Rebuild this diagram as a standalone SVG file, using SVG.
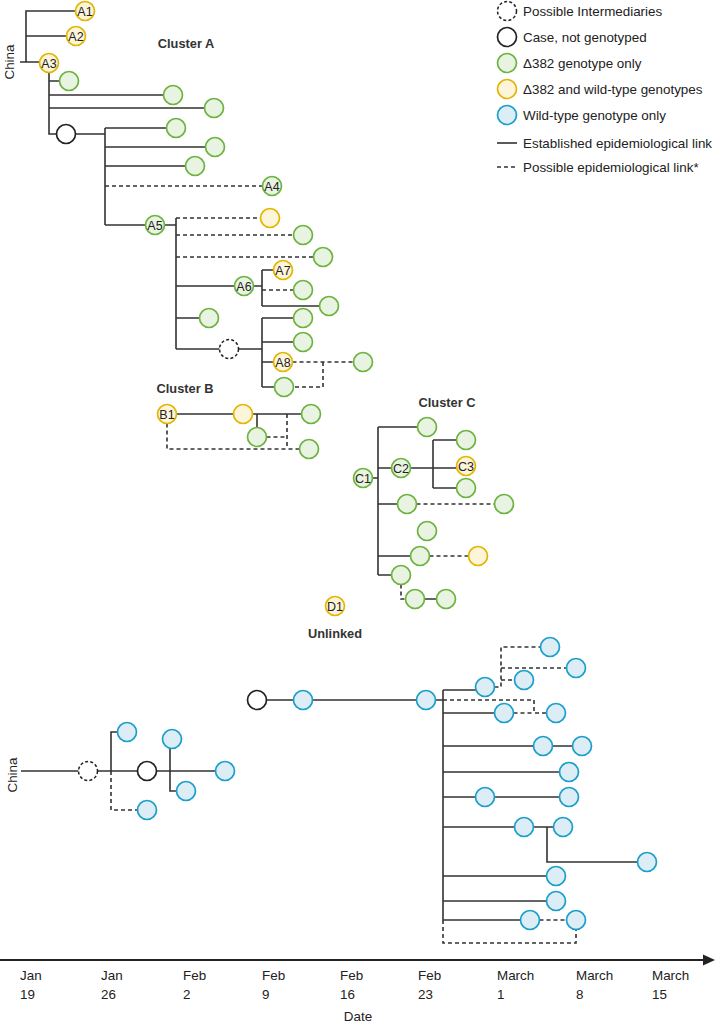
<svg xmlns="http://www.w3.org/2000/svg" width="716" height="1023" viewBox="0 0 716 1023">
<style>
.g{fill:#e9f3e1;stroke:#6cb33f;stroke-width:1.7}
.y{fill:#fdf5da;stroke:#e3b500;stroke-width:1.7}
.b{fill:#dcedf5;stroke:#1a9fca;stroke-width:1.7}
.k{fill:#fff;stroke:#222;stroke-width:1.7}
.i{fill:#fff;stroke:#222;stroke-width:1.5;stroke-dasharray:3 2.2}
.s{fill:none;stroke:#333;stroke-width:1.6}
.d{fill:none;stroke:#333;stroke-width:1.6;stroke-dasharray:4 3}
text{font-family:"Liberation Sans",Arial,sans-serif;fill:#222}
.lb{font-size:12.5px;text-anchor:middle}
.t{font-size:13.4px}
.h{font-size:12.8px;font-weight:bold;fill:#333}
</style>
<g id="connectors">
<path class="s" d="M20,62H40M26,62V11H75.5M26,36H66.5"/>
<path class="s" d="M49,72.5V134H56.5M49,81H59.5M49,95H163.5M49,108H204.5"/>
<path class="s" d="M75.5,134H105M105,128V225M105,128H166.5M105,147H205.5M105,166H185.5M105,225H145.5"/>
<path class="d" d="M105,186H262.5"/>
<path class="s" d="M164.5,225H176M176,218V349M176,286H234.5M253.5,286H262M262,270V306M262,270H273.5M262,306H319.5M176,318H199.5M176,349H219.5M238.5,349H262M262,318V387M262,318H293.5M262,342H293.5M262,362H273.5M262,387H274.5"/>
<path class="d" d="M176,218H260.5M176,235H293.5M176,257H313.5M262,290H293.5M292.5,362H353.5M323,362V387H293.5"/>
<path class="s" d="M176.5,414H233.5M252.5,414H301.5M257,414V427.5"/>
<path class="d" d="M287,414V449M266.5,437H287M167,423.5V449H299.5"/>
<path class="s" d="M372.5,478H378M378,427V575M378,427H417.5M378,468H391.5M410.5,468H433M433,440V488M433,440H456.5M433,468H456.5M433,488H456.5M378,504H397.5M378,556H410.5M378,575H391.5M424.5,599H436.5"/>
<path class="d" d="M416.5,504H494.5M429.5,556H468.5M401,584.5V599H405.5"/>
<path class="s" d="M21,771H78.5M97.5,771H137.5M111,771V732H117.5M156.5,771H215.5M170,748V791H176.5"/>
<path class="d" d="M111,771V810H137.5"/>
<path class="s" d="M266.5,700H293.5M312.5,700H416.5M435.5,700H443M443,690V920M443,690H476M443,713H494.5M443,746H533.5M552.5,746H572.5M443,772H559.5M443,797H475.5M494.5,797H559.5M443,827H514.5M533.5,827H553.5M547,827V862H637.5M443,876H546.5M443,901H546.5M443,920H520.5"/>
<path class="d" d="M494.5,687H501V647H540.5M501,668H566.5M501,680H514.5M443,700H534V713H546.5M513.5,713H534M539.5,920H566.5M443,920V943H576V929.5"/>
<path d="M0,960H706" stroke="#222" stroke-width="1.8" fill="none"/>
<polygon points="703,954.5 715,960 703,965.5" fill="#222"/>
</g>
<g id="cluster-labels">
<text class="h" x="186" y="48" text-anchor="middle">Cluster A</text>
<text class="h" x="185" y="393" text-anchor="middle">Cluster B</text>
<text class="h" x="447" y="407" text-anchor="middle">Cluster C</text>
<text class="h" x="335" y="638" text-anchor="middle">Unlinked</text>
<text class="t" transform="translate(14,62) rotate(-90)" text-anchor="middle">China</text>
<text class="t" transform="translate(17,775) rotate(-90)" text-anchor="middle">China</text>
</g>
<g id="A1"><circle class="y" cx="85" cy="11" r="9.5"/><text class="lb" x="85" y="15.5">A1</text></g>
<g id="A2"><circle class="y" cx="76" cy="36" r="9.5"/><text class="lb" x="76" y="40.5">A2</text></g>
<g id="A3"><circle class="y" cx="49" cy="63" r="9.5"/><text class="lb" x="49" y="67.5">A3</text></g>
<g id="a-g1"><circle class="g" cx="69" cy="81" r="9.5"/></g>
<g id="a-g2"><circle class="g" cx="173" cy="95" r="9.5"/></g>
<g id="a-g3"><circle class="g" cx="214" cy="108" r="9.5"/></g>
<g id="a-k1"><circle class="k" cx="66" cy="134" r="9.5"/></g>
<g id="a-g4"><circle class="g" cx="176" cy="128" r="9.5"/></g>
<g id="a-g5"><circle class="g" cx="215" cy="147" r="9.5"/></g>
<g id="a-g6"><circle class="g" cx="195" cy="166" r="9.5"/></g>
<g id="A4"><circle class="g" cx="272" cy="186" r="9.5"/><text class="lb" x="272" y="190.5">A4</text></g>
<g id="A5"><circle class="g" cx="155" cy="225" r="9.5"/><text class="lb" x="155" y="229.5">A5</text></g>
<g id="a-y1"><circle class="y" cx="270" cy="218" r="9.5"/></g>
<g id="a-g7"><circle class="g" cx="303" cy="235" r="9.5"/></g>
<g id="a-g8"><circle class="g" cx="323" cy="257" r="9.5"/></g>
<g id="A6"><circle class="g" cx="244" cy="286" r="9.5"/><text class="lb" x="244" y="290.5">A6</text></g>
<g id="A7"><circle class="y" cx="283" cy="270" r="9.5"/><text class="lb" x="283" y="274.5">A7</text></g>
<g id="a-g9"><circle class="g" cx="303" cy="290" r="9.5"/></g>
<g id="a-g10"><circle class="g" cx="329" cy="306" r="9.5"/></g>
<g id="a-g11"><circle class="g" cx="209" cy="318" r="9.5"/></g>
<g id="a-i1"><circle class="i" cx="229" cy="349" r="9.5"/></g>
<g id="a-g12"><circle class="g" cx="303" cy="318" r="9.5"/></g>
<g id="a-g13"><circle class="g" cx="303" cy="342" r="9.5"/></g>
<g id="A8"><circle class="y" cx="283" cy="362" r="9.5"/><text class="lb" x="283" y="366.5">A8</text></g>
<g id="a-g14"><circle class="g" cx="363" cy="362" r="9.5"/></g>
<g id="a-g15"><circle class="g" cx="284" cy="387" r="9.5"/></g>
<g id="B1"><circle class="y" cx="167" cy="414" r="9.5"/><text class="lb" x="167" y="418.5">B1</text></g>
<g id="b-y1"><circle class="y" cx="243" cy="414" r="9.5"/></g>
<g id="b-g1"><circle class="g" cx="311" cy="414" r="9.5"/></g>
<g id="b-g2"><circle class="g" cx="257" cy="437" r="9.5"/></g>
<g id="b-g3"><circle class="g" cx="309" cy="449" r="9.5"/></g>
<g id="C1"><circle class="g" cx="363" cy="478" r="9.5"/><text class="lb" x="363" y="482.5">C1</text></g>
<g id="c-g1"><circle class="g" cx="427" cy="427" r="9.5"/></g>
<g id="C2"><circle class="g" cx="401" cy="468" r="9.5"/><text class="lb" x="401" y="472.5">C2</text></g>
<g id="c-g2"><circle class="g" cx="466" cy="440" r="9.5"/></g>
<g id="C3"><circle class="y" cx="466" cy="466" r="9.5"/><text class="lb" x="466" y="470.5">C3</text></g>
<g id="c-g3"><circle class="g" cx="466" cy="488" r="9.5"/></g>
<g id="c-g4"><circle class="g" cx="407" cy="504" r="9.5"/></g>
<g id="c-g5"><circle class="g" cx="504" cy="504" r="9.5"/></g>
<g id="c-g6"><circle class="g" cx="427" cy="531" r="9.5"/></g>
<g id="c-g7"><circle class="g" cx="420" cy="556" r="9.5"/></g>
<g id="c-y1"><circle class="y" cx="478" cy="556" r="9.5"/></g>
<g id="c-g8"><circle class="g" cx="401" cy="575" r="9.5"/></g>
<g id="c-g9"><circle class="g" cx="415" cy="599" r="9.5"/></g>
<g id="c-g10"><circle class="g" cx="446" cy="599" r="9.5"/></g>
<g id="D1"><circle class="y" cx="335" cy="606" r="9.5"/><text class="lb" x="335" y="610.5">D1</text></g>
<g id="w-i2"><circle class="i" cx="88" cy="771" r="9.5"/></g>
<g id="w-k2"><circle class="k" cx="147" cy="771" r="9.5"/></g>
<g id="w1"><circle class="b" cx="127" cy="732" r="9.5"/></g>
<g id="w2"><circle class="b" cx="147" cy="810" r="9.5"/></g>
<g id="w3"><circle class="b" cx="172" cy="739" r="9.5"/></g>
<g id="w4"><circle class="b" cx="186" cy="791" r="9.5"/></g>
<g id="w5"><circle class="b" cx="225" cy="771" r="9.5"/></g>
<g id="w-k3"><circle class="k" cx="257" cy="700" r="9.5"/></g>
<g id="w6"><circle class="b" cx="303" cy="700" r="9.5"/></g>
<g id="w7"><circle class="b" cx="426" cy="700" r="9.5"/></g>
<g id="w8"><circle class="b" cx="485" cy="687" r="9.5"/></g>
<g id="w9"><circle class="b" cx="550" cy="647" r="9.5"/></g>
<g id="w10"><circle class="b" cx="576" cy="668" r="9.5"/></g>
<g id="w11"><circle class="b" cx="524" cy="680" r="9.5"/></g>
<g id="w12"><circle class="b" cx="504" cy="713" r="9.5"/></g>
<g id="w13"><circle class="b" cx="556" cy="713" r="9.5"/></g>
<g id="w14"><circle class="b" cx="543" cy="746" r="9.5"/></g>
<g id="w15"><circle class="b" cx="582" cy="746" r="9.5"/></g>
<g id="w16"><circle class="b" cx="569" cy="772" r="9.5"/></g>
<g id="w17"><circle class="b" cx="485" cy="797" r="9.5"/></g>
<g id="w18"><circle class="b" cx="569" cy="797" r="9.5"/></g>
<g id="w19"><circle class="b" cx="524" cy="827" r="9.5"/></g>
<g id="w20"><circle class="b" cx="563" cy="827" r="9.5"/></g>
<g id="w21"><circle class="b" cx="647" cy="862" r="9.5"/></g>
<g id="w22"><circle class="b" cx="556" cy="876" r="9.5"/></g>
<g id="w23"><circle class="b" cx="556" cy="901" r="9.5"/></g>
<g id="w24"><circle class="b" cx="530" cy="920" r="9.5"/></g>
<g id="w25"><circle class="b" cx="576" cy="920" r="9.5"/></g>
<g id="legend">
<circle class="i" cx="507" cy="11" r="9.5"/><text class="t" x="523" y="15.8">Possible Intermediaries</text>
<circle class="k" cx="507" cy="37" r="9.5"/><text class="t" x="523" y="41.8">Case, not genotyped</text>
<circle class="g" cx="507" cy="63" r="9.5"/><text class="t" x="523" y="67.8">Δ382 genotype only</text>
<circle class="y" cx="507" cy="89" r="9.5"/><text class="t" x="523" y="93.8">Δ382 and wild-type genotypes</text>
<circle class="b" cx="507" cy="115" r="9.5"/><text class="t" x="523" y="119.8">Wild-type genotype only</text>
<path class="s" d="M497,143H517"/><text class="t" x="523" y="147.8">Established epidemiological link</text>
<path class="d" d="M497,167H517"/><text class="t" x="523" y="171.8">Possible epidemiological link*</text>
</g>
<g id="axis-labels">
<text class="t" x="20" y="980">Jan</text><text class="t" x="20" y="999">19</text>
<text class="t" x="101" y="980">Jan</text><text class="t" x="101" y="999">26</text>
<text class="t" x="183" y="980">Feb</text><text class="t" x="183" y="999">2</text>
<text class="t" x="262" y="980">Feb</text><text class="t" x="262" y="999">9</text>
<text class="t" x="340" y="980">Feb</text><text class="t" x="340" y="999">16</text>
<text class="t" x="418" y="980">Feb</text><text class="t" x="418" y="999">23</text>
<text class="t" x="497" y="980">March</text><text class="t" x="497" y="999">1</text>
<text class="t" x="576" y="980">March</text><text class="t" x="576" y="999">8</text>
<text class="t" x="652" y="980">March</text><text class="t" x="652" y="999">15</text>
<text class="t" x="358" y="1021" text-anchor="middle">Date</text>
</g>
</svg>
